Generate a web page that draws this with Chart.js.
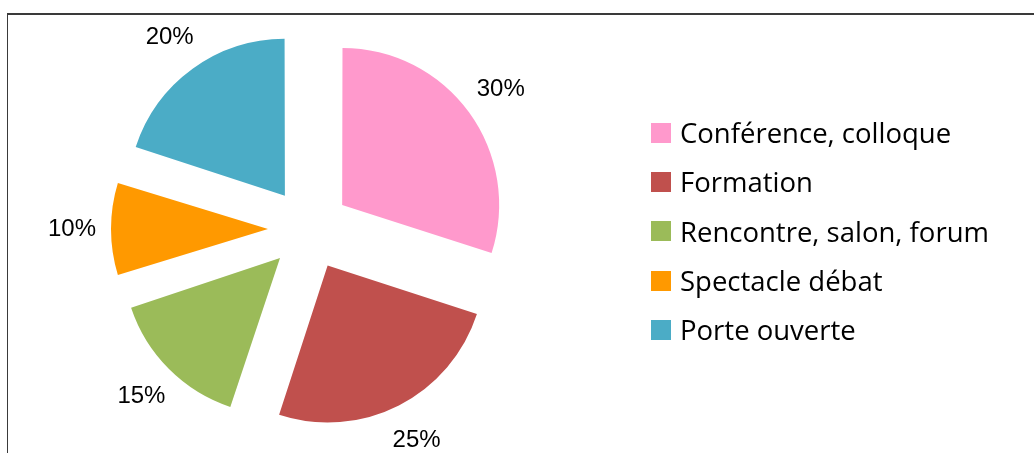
<!DOCTYPE html>
<html>
<head>
<meta charset="utf-8">
<script src="https://cdn.jsdelivr.net/npm/chart.js@4/dist/chart.umd.min.js"></script>
<style>
  html, body { margin: 0; padding: 0; background: #fff; overflow: hidden; }
  #wrap { position: relative; width: 1034px; height: 453px; }
  #frame {
    position: absolute; left: 7px; top: 13px; right: 0; bottom: -5px;
    border-top: 2px solid #3a3a3a; border-left: 1px solid #3a3a3a;
  }
  canvas { position: absolute; left: 0; top: 0; }
  #legend { position: absolute; left: 651px; top: 108px; font-family: "Open Sans", sans-serif; font-size: 27.5px; color: #000; }
  #legend div { height: 49.3px; display: flex; align-items: center; white-space: nowrap; }
  #legend span.box { display: inline-block; width: 20px; height: 20px; margin-right: 9px; }
</style>
</head>
<body>
<div id="wrap">
  <div id="frame"></div>
  <canvas id="pie" width="1034" height="453"></canvas>
  <div id="legend"></div>
</div>
<script>
const categories = ['Conférence, colloque', 'Formation', 'Rencontre, salon, forum', 'Spectacle débat', 'Porte ouverte'];
const values = [30, 25, 15, 10, 20];
const labelsPct = ['30%', '25%', '15%', '10%', '20%'];
const colors = ['#FF99CC', '#C0504D', '#9BBB59', '#FF9900', '#4BACC6'];

// légende en HTML
const legendEl = document.getElementById('legend');
categories.forEach((cat, i) => {
    const row = document.createElement('div');
    row.innerHTML = '<span class="box" style="background:' + colors[i] + '"></span>' + cat;
    legendEl.appendChild(row);
});

const pieRadius = 157;
const explode = 164; // Chart.js translate les parts de offset/4

// Chart.js agrandit les petites parts décalées : on compense le rayon
const sameRadius = {
    id: 'sameRadius',
    afterDatasetsUpdate(chart) {
        chart.getDatasetMeta(0).data.forEach(arc => {
            const circ = arc.endAngle - arc.startAngle;
            const fix = 1 - Math.sin(Math.min(Math.PI, circ));
            arc.outerRadius = pieRadius - (explode / 4) * fix;
        });
    }
};

// étiquettes de pourcentage à l'extérieur des parts
const pctLabels = {
    id: 'pctLabels',
    afterDatasetsDraw(chart) {
        const ctx = chart.ctx;
        const meta = chart.getDatasetMeta(0);
        ctx.save();
        ctx.font = '24px "Liberation Sans", Arial, sans-serif';
        ctx.fillStyle = '#000';
        ctx.textAlign = 'center';
        ctx.textBaseline = 'middle';
        meta.data.forEach((arc, i) => {
            const mid = (arc.startAngle + arc.endAngle) / 2;
            const dist = explode / 4 + pieRadius + 39;
            ctx.fillText(labelsPct[i], arc.x + Math.cos(mid) * dist, arc.y + Math.sin(mid) * dist);
        });
        ctx.restore();
    }
};

new Chart(document.getElementById('pie').getContext('2d'), {
    type: 'pie',
    data: {
        labels: categories,
        datasets: [{
            data: values,
            backgroundColor: colors,
            borderWidth: 0,
            offset: explode,
            hoverOffset: 0
        }]
    },
    options: {
        responsive: false,
        animation: false,
        radius: pieRadius,
        layout: { padding: { left: 0, right: 416, top: 5, bottom: 0 } },
        plugins: {
            legend: { display: false },
            tooltip: { enabled: false }
        }
    },
    plugins: [sameRadius, pctLabels]
});
</script>
</body>
</html>
